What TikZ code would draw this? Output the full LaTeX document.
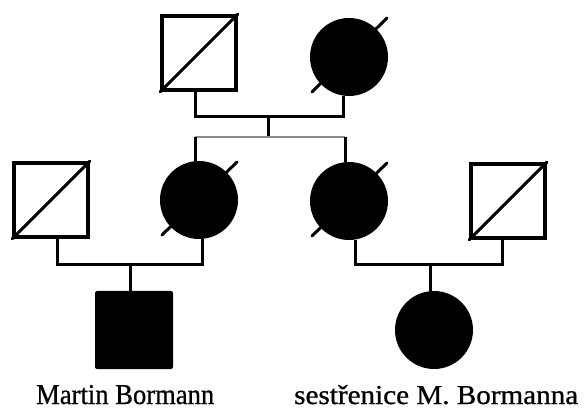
\documentclass[tikz,border=0pt]{standalone}
\usepackage{fontspec}
\setmainfont{Liberation Serif}
\newfontfamily\namefont{Liberation Serif}[FakeBold=0.8]
\usepackage{graphicx}

\begin{document}
\begin{tikzpicture}[x=1pt,y=-1pt,
  male/.style={rectangle, draw=black, line width=3.5pt, minimum size=74pt, inner sep=0pt},
  female/.style={circle, fill=black, minimum size=78pt, inner sep=0pt},
  affmale/.style={rectangle, fill=black, rounded corners=2pt, minimum size=78pt, inner sep=0pt},
  slash/.style={line width=3pt, line cap=round},
  link/.style={line width=3pt},
  faint/.style={line width=1.6pt, black!45},
  label/.style={anchor=base west, inner sep=0pt}
]
\useasboundingbox (0,0) rectangle (586,411);

% grandparents
\node[male]   (gf) at (199,53) {};
\node[female] (gm) at (349,57) {};
% second generation
\node[male]   (f1) at (51,200) {};
\node[female] (m1) at (199,200) {};
\node[female] (m2) at (349,201) {};
\node[male]   (f2) at (508,201) {};
% third generation
\node[affmale] (c1) at (134,330) {};
\node[female]  (c2) at (434,330) {};

% deceased marks
\draw[slash] (gf.south west) -- (gf.north east);
\draw[slash] (f1.south west) -- (f1.north east);
\draw[slash] (f2.south west) -- (f2.north east);
\draw[slash] (gm.center) +(-37,35) -- +(38,-39);
\draw[slash] (m1.center) +(-37,35) -- +(38,-38);
\draw[slash] (m2.center) +(-37,35) -- +(38,-38);

% grandparents' union and sibship
\coordinate (u0) at (268,117);
\coordinate (s0) at (268,137);
\draw[link] ([xshift=-4pt]gf.south) |- (u0) -| ([xshift=-6pt]gm.south);
\draw[link] (u0) -- (s0);
\draw[faint] (195,137) -- (345,137);
\draw[link] (195,137) -- ([xshift=-4pt]m1.north);
\draw[link] (345,137) -- ([xshift=-4pt]m2.north);

% left union
\coordinate (u1) at (130,265);
\draw[link] ([xshift=6pt]f1.south) |- (u1) -| ([xshift=3pt]m1.south);
\draw[link] (u1) -- ([xshift=-4pt]c1.north);

% right union
\coordinate (u2) at (430,265);
\draw[link] ([xshift=6pt]m2.south) |- (u2) -| ([xshift=-6pt]f2.south);
\draw[link] (u2) -- ([xshift=-4pt]c2.north);

% names
\node[label] (t1) at (36,404) {\resizebox{178pt}{19pt}{\namefont Martin Bormann}};
\node[label] (t2) at (294,404) {\resizebox{284pt}{19pt}{\namefont sestřenice M. Bormanna}};
\end{tikzpicture}
\end{document}
